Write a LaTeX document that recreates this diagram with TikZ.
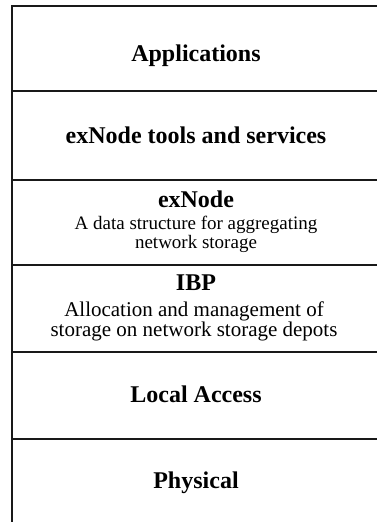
\documentclass[tikz,border=0pt]{standalone}
\usepackage{fontspec}
\setmainfont{Liberation Serif}
\begin{document}
\begin{tikzpicture}[x=1pt,y=-1pt,
  rule/.style={line width=1.5pt,draw=black!90},
  title/.style={anchor=base,inner sep=0pt,font=\fontsize{24}{28}\selectfont\bfseries},
  desc/.style={anchor=base,inner sep=0pt,font=\fontsize{19}{22}\selectfont},
  descl/.style={anchor=north,inner sep=0pt,align=center,font=\fontsize{21}{18}\selectfont}]
\useasboundingbox (0,0) rectangle (377,522);
\clip (0,0) rectangle (377,522);
% frame
\coordinate (tl) at (12,6);
\coordinate (tr) at (385,6);
\coordinate (bl) at (12,530);
\draw[rule] (tr) -- (tl) -- (bl);
\foreach \y/\n in {91/a,180/b,265/c,352/d,439/e}{
  \coordinate (l\n) at (12,\y);
  \coordinate (r\n) at (385,\y);
  \draw[rule] (l\n) -- (r\n);
}
% texts
\node[title] (apps) at (196,61) {Applications};
\node[title] (tools) at (196,143) {exNode tools and services};
\node[title] (exn) at (196,207) {exNode};
\node[desc] (exnd1) at (196,229) {A data structure for aggregating};
\node[desc] (exnd2) at (196,248) {network storage};
\node[title] (ibp) at (196,290) {IBP};
\node[descl] (ibpd) at (194,301.5) {Allocation and management of\\storage on network storage depots};
\node[title] (local) at (196,402) {Local Access};
\node[title] (phys) at (196,488) {Physical};
\end{tikzpicture}
\end{document}
